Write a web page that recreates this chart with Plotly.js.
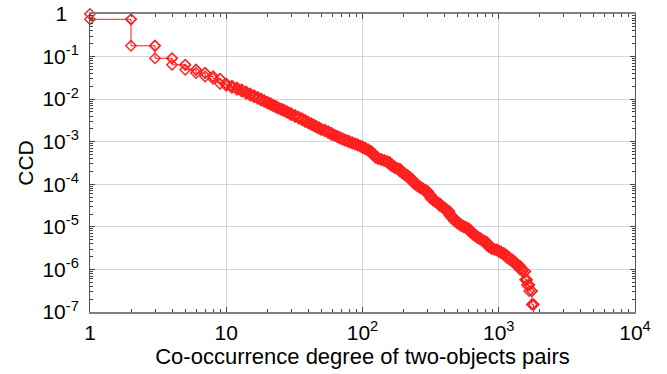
<!DOCTYPE html>
<html>
<head>
<meta charset="utf-8">
<script src="https://cdn.plot.ly/plotly-3.0.1.min.js"></script>
<style>html,body{margin:0;padding:0;background:#fff;}#chart{width:667px;height:374px;}</style>
</head>
<body>
<div id="chart"></div>
<script>
// Co-occurrence degree values (x)
const degree = [1,2,3,4,5,6,7,8,9,
  10,11,12,13,14,15,16,17,18,19,20,21,22,23,24,25,26,27,28,29,30,32,34,36,38,40,42,44,46,48,50,
  53,56,59,62,65,68,71,74,77,80,84,88,92,96,100,105,110,115,120,125,130,137,144,151,158,165,172,180,188,196,
  205,214,224,234,244,254,266,278,290,302,315,328,342,356,370,386,402,418,434,452,470,490,510,530,552,575,600,625,650,676,703,730,758,787,815,850,888,927,965,
  1000,1040,1090,1140,1194,1260,1321,1373,1430,1494,1563,1610,1673,1750,1800];
// complementary cumulative distribution (CCD); last value lies below the axis (final drop)
const ccd = [1,0.75,0.179,0.091,0.064,0.049,0.041,0.034,0.030,
  0.023,0.0205,0.0185,0.0166,0.0150,0.0134,0.0122,0.0111,0.0102,0.0093,0.0086,0.0080,0.0074,0.0069,0.0064,0.0060,0.0057,0.0054,0.0051,0.0048,0.0046,0.0042,0.0038,0.0035,0.0032,0.0029,0.0027,0.0025,0.0023,0.00215,0.0020,
  0.00188,0.00175,0.00160,0.00146,0.00137,0.00128,0.00119,0.00112,0.00107,0.00103,0.00096,0.00091,0.00086,0.00081,0.00077,0.00071,0.00066,0.00061,0.00054,0.00047,0.00042,0.00039,0.00037,0.00035,0.00033,0.00029,0.00026,0.00024,0.00023,0.00020,
  0.00018,0.000163,0.000145,0.000128,0.000110,0.000097,0.000088,0.000080,0.000074,0.000068,0.000057,0.000047,0.000042,0.000038,0.000035,0.000031,0.000028,0.000025,0.000023,0.0000185,0.0000160,0.0000138,0.0000125,0.0000113,0.0000105,0.0000098,0.0000092,0.0000082,0.0000072,0.0000064,0.0000059,0.0000054,0.0000050,0.0000047,0.0000044,0.0000037,0.0000033,0.0000030,0.0000029,
  0.0000028,0.0000026,0.0000024,0.0000022,0.0000019,0.0000017,0.0000015,0.0000013,0.0000012,0.0000010,0.00000089,0.00000057,0.00000043,0.00000031,0.00000015,
  0.00000005];

const xTickVals = [1,10,100,1000,10000];
const xTickText = ['1','10','10<sup>2</sup>','10<sup>3</sup>','10<sup>4</sup>'];
const yTickVals = [1,0.1,0.01,0.001,0.0001,0.00001,0.000001,0.0000001];
const yTickText = ['1\u00a0\u00a0','10<sup>-1</sup>','10<sup>-2</sup>','10<sup>-3</sup>','10<sup>-4</sup>','10<sup>-5</sup>','10<sup>-6</sup>','10<sup>-7</sup>'];

// staircase: at each degree, the CCD value and the next one
const sx = [], sy = [];
for (let i = 0; i < degree.length; i++) {
  sx.push(degree[i]); sy.push(ccd[i]);
  sx.push(degree[i]); sy.push(ccd[i+1]);
  if (i + 1 < degree.length) { sx.push(degree[i+1]); sy.push(ccd[i+1]); }
}
// markers only at the corners that lie inside the axis range
const mx = [], my = [];
for (let i = 0; i < sx.length; i++) {
  if (sy[i] >= 1e-7) { mx.push(sx[i]); my.push(sy[i]); }
}

const font = 'Liberation Sans, Arial, sans-serif';
const lineTrace = {
  x: sx, y: sy, type: 'scatter', mode: 'lines',
  line: {color: '#ff1a1a', width: 1},
  showlegend: false, cliponaxis: true, hoverinfo: 'skip'
};
const markerTrace = {
  x: mx, y: my, type: 'scatter', mode: 'markers',
  marker: {symbol: 'diamond-open', size: 8, color: '#ff2020', line: {width: 1.4, color: '#ff2020'}},
  showlegend: false, cliponaxis: false
};

const layout = {
  width: 667, height: 374,
  margin: {l: 90, r: 32, t: 14, b: 62},
  paper_bgcolor: '#fff', plot_bgcolor: '#fff',
  font: {family: font, color: '#000', size: 20},
  xaxis: {
    type: 'log', range: [0, 4],
    tickmode: 'array', tickvals: xTickVals, ticktext: xTickText,
    ticks: 'inside', ticklen: 5, tickcolor: '#444', tickwidth: 1,
    minor: {dtick: 'D1', ticks: 'inside', ticklen: 3, tickcolor: '#444', showgrid: false},
    showgrid: true, gridcolor: '#d4d5dc', gridwidth: 1,
    showline: true, linecolor: '#808080', linewidth: 2, mirror: 'allticks',
    zeroline: false,
    tickfont: {family: font, size: 21, color: '#000'},
    ticklabelstandoff: 1,
    title: {text: 'Co-occurrence degree of two-objects pairs', font: {family: font, size: 22, color: '#000'}, standoff: 2}
  },
  yaxis: {
    type: 'log', range: [-7, 0],
    tickmode: 'array', tickvals: yTickVals, ticktext: yTickText,
    ticks: 'inside', ticklen: 5, tickcolor: '#444', tickwidth: 1,
    minor: {dtick: 'D1', ticks: 'inside', ticklen: 3, tickcolor: '#444', showgrid: false},
    showgrid: true, gridcolor: '#d4d5dc', gridwidth: 1,
    showline: true, linecolor: '#555', linewidth: 1, mirror: 'allticks',
    zeroline: false,
    tickfont: {family: font, size: 21, color: '#000'},
    ticklabelstandoff: 6,
    title: {text: 'CCD', font: {family: font, size: 21, color: '#000'}, standoff: 3}
  }
};

Plotly.newPlot('chart', [lineTrace, markerTrace], layout, {displayModeBar: false, staticPlot: true});
</script>
</body>
</html>
